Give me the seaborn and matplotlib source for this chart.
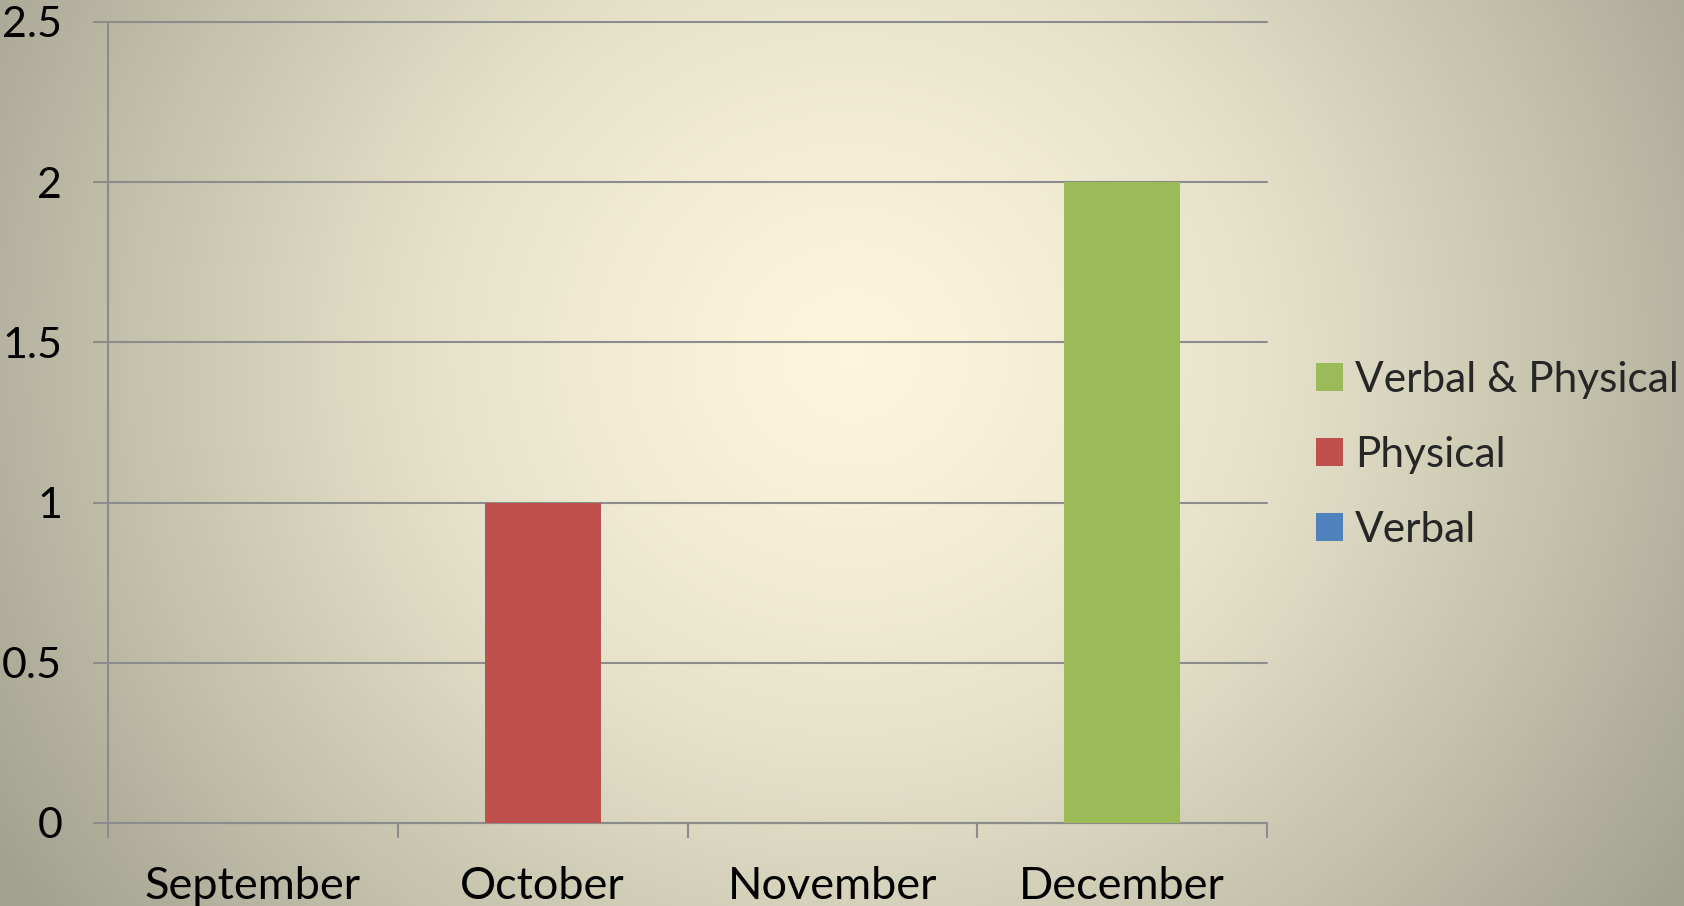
import numpy as np
import pandas as pd
import matplotlib
matplotlib.use("Agg")
import matplotlib.pyplot as plt
import seaborn as sns
from matplotlib.colors import LinearSegmentedColormap
from matplotlib.patches import Patch

months = ["September", "October", "November", "December"]
verbal = [0, 0, 0, 0]
physical = [0, 1, 0, 0]
verbal_physical = [0, 0, 0, 2]
y_ticks = [0, 0.5, 1, 1.5, 2, 2.5]
y_labels = ["0", "0.5", "1", "1.5", "2", "2.5"]

series_names = ["Verbal", "Physical", "Verbal & Physical"]
series_colors = ["#4F81BD", "#C0504D", "#9BBB59"]

sns.set_theme(style="white")
plt.rcParams['font.family'] = ['Lato', 'DejaVu Sans']

W, H = 1684, 906
fig = plt.figure(figsize=(W / 100, H / 100), dpi=100)

# background radial gradient
bg = fig.add_axes([0, 0, 1, 1], zorder=0)
yy, xx = np.mgrid[0:H, 0:W]
d = np.sqrt(((xx - 850) / 1.0) ** 2 + ((yy - 355) / 0.95) ** 2) / 1000.0
t = np.clip(d, 0, 1) ** 1.25
cmap = LinearSegmentedColormap.from_list("bg", ["#FCF6DC", "#E6E2CA", "#C4C1AC", "#A3A190"])
bg.imshow(t, cmap=cmap, vmin=0, vmax=1, aspect="auto", extent=[0, 1, 0, 1])
bg.axis("off")

ax = fig.add_axes([108 / W, 83 / H, (1267 - 108) / W, (823 - 22) / H], zorder=1)
ax.patch.set_alpha(0)

df = pd.DataFrame({"month": months, "Verbal": verbal, "Physical": physical,
                   "Verbal & Physical": verbal_physical})
bottom = np.zeros(len(months))
for name, color in zip(series_names, series_colors):
    sns.barplot(data=df, x="month", y=name, color=color, width=0.4, bottom=bottom,
                ax=ax, saturation=1, zorder=3, linewidth=0)
    bottom = bottom + df[name].to_numpy()

ax.set_ylim(0, 2.5)
ax.set_xlim(-0.5, len(months) - 0.5)
ax.set_yticks(y_ticks)
ax.set_yticklabels(y_labels)
ax.set_xlabel("")
ax.set_ylabel("")

grid_color = "#8C8C8C"
for y in y_ticks:
    ax.axhline(y, color=grid_color, lw=1.5, zorder=2, clip_on=False)
for s in ["top", "right"]:
    ax.spines[s].set_visible(False)
ax.spines["left"].set_color(grid_color)
ax.spines["left"].set_linewidth(1.5)
ax.spines["bottom"].set_color(grid_color)
ax.spines["bottom"].set_linewidth(1.5)

ax.tick_params(axis="y", length=11, width=1.5, color=grid_color, pad=22, labelsize=31,
               labelcolor="black", left=True)
ax.set_xticks(np.arange(len(months)))
ax.set_xticklabels(months)
ax.tick_params(axis="x", length=0, pad=31, labelsize=32.5, labelcolor="black")
# category boundary ticks
ax.set_xticks(np.arange(-0.5, len(months)), minor=True)
ax.tick_params(axis="x", which="minor", length=11, width=1.5, color=grid_color, bottom=True)

handles = [Patch(facecolor=c, edgecolor="none") for c in series_colors[::-1]]
labels = series_names[::-1]
fig.legend(handles, labels, loc="center left", bbox_to_anchor=(1316 / W, 1 - 455 / H),
           frameon=False, fontsize=30.5, handlelength=0.64, handleheight=0.64,
           handletextpad=0.28, labelspacing=0.88, borderpad=0, borderaxespad=0)

fig.savefig("out.png", dpi=100)
